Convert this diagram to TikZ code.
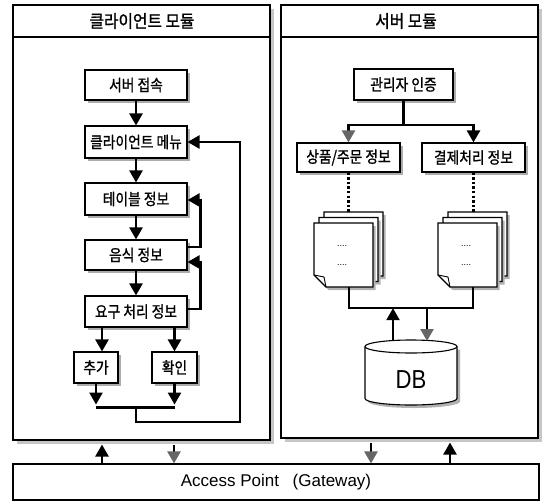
\documentclass[tikz,border=0pt]{standalone}
\usepackage{fontspec}
\usepackage{graphicx}
\newfontfamily\kr[FakeBold=1.2]{Noto Sans CJK KR}
\newfontfamily\lat{Liberation Sans}
\newcommand\ks[1]{\scalebox{0.86}[1]{#1}}
\usetikzlibrary{arrows.meta,shadows,calc}
\tikzset{docpage/.pic={
  \fill[gray!60] (2.5,3) -- (61.5,3) -- (61.5,67) -- (14.5,67) -- (2.5,55) -- cycle;
  \draw[line width=1.1pt,fill=white] (0,0) -- (59,0) -- (59,64) -- (12,64) -- (0,52) -- cycle;
  \draw[line width=0.9pt] (0,52) -- (10,54) -- (12,64);
}}
\begin{document}
\begin{tikzpicture}[x=1pt,y=-1pt,
  every node/.style={inner sep=0pt},
  kfont/.style={font=\kr\fontsize{16}{17}\selectfont},
  box/.style={draw,line width=1.1pt,fill=white,kfont,minimum height=30pt,
     drop shadow={shadow xshift=2.5pt,shadow yshift=-2.5pt,fill=gray!65,opacity=1}},
  panel/.style={draw,line width=1.1pt,fill=white,
     drop shadow={shadow xshift=4pt,shadow yshift=-4pt,fill=gray!45,opacity=1}},
  conn/.style={line width=2.4pt},
  arr/.style={conn,-{Triangle[width=13pt,length=12pt]}},
  garr/.style={conn,-{Triangle[width=13pt,length=12pt,color=black!60]}},
  dots/.style={line width=2.4pt,dash pattern=on 2.4pt off 2.2pt},
]
\useasboundingbox (0,0) rectangle (545,503);
% panels
\node[panel,minimum width=257pt,minimum height=435pt] (lp) at (141.5,222.5) {};
\node[panel,minimum width=257pt,minimum height=433pt] (rp) at (409.5,221.5) {};
\coordinate (t1) at (0,37);
\draw[line width=1.1pt] (lp.west |- t1) -- (lp.east |- t1);
\draw[line width=1.1pt] (rp.west |- t1) -- (rp.east |- t1);
\node[font=\kr\fontsize{17.5}{18}\selectfont] (lt) at (142,21) {\scalebox{0.9}[1]{클라이언트 모듈}};
\node[font=\kr\fontsize{17.5}{18}\selectfont] (rt) at (406,21) {\scalebox{0.9}[1]{서버 모듈}};
% access point
\node[draw,line width=1.1pt,fill=white,minimum width=526pt,minimum height=36pt,
  font=\lat\fontsize{17}{18}\selectfont] (ap) at (276,482) {Access Point\hspace{0.8em}(Gateway)};
% client boxes
\node[box,minimum width=102pt] (a1) at (136,85) {\ks{서버 접속}};
\node[box,minimum width=102pt,minimum height=32pt] (a2) at (136,142) {\ks{클라이언트 메뉴}};
\node[box,minimum width=102pt,minimum height=32pt] (a3) at (136,199) {\ks{테이블 정보}};
\node[box,minimum width=102pt] (a4) at (136,255) {\ks{음식 정보}};
\node[box,minimum width=102pt,minimum height=31pt] (a5) at (136,311.5) {\ks{요구 처리 정보}};
\node[box,minimum width=44pt,minimum height=31pt] (a6) at (96,367.5) {\ks{추가}};
\node[box,minimum width=45pt,minimum height=31pt] (a7) at (174.5,367.5) {\ks{확인}};
\draw[arr] (a1) -- (a2);
\draw[arr] (a2) -- (a3);
\draw[arr] (a3) -- (a4);
\draw[arr] (a4) -- (a5);
\draw[arr] ([xshift=6pt]a6.north |- a5.south) -- ([xshift=6pt]a6.north);
\draw[arr] (a7.north |- a5.south) -- (a7.north);
\draw[arr] (a6.south) -- ++(0,21);
\draw[arr] (a7.south) -- ++(0,21);
\coordinate (jl) at ($(a6.south)+(0,24)$);
\draw[conn] (jl) -- (jl -| a7.south);
\coordinate (jm) at (jl -| a4.south);
\coordinate (loopc) at (240,422);
\draw[arr] (jm) |- (loopc) |- (a2.east);
\draw[arr] ([yshift=2.5pt]a5.east) -- ++(13,0) |- ([yshift=-7pt]a4.east);
\draw[arr] ([yshift=8pt]a4.east) -- ++(13,0) |- ([yshift=-1pt]a3.east);
% panel <-> access point
\coordinate (x1) at (102,0);
\coordinate (x2) at (174,0);
\coordinate (x3) at (371,0);
\coordinate (x4) at (450,0);
\draw[arr] (ap.north -| x1) -- ($(lp.south -| x1)+(0,4)$);
\draw[garr] ($(lp.south -| x2)+(0,4)$) -- (ap.north -| x2);
\draw[garr] ($(rp.south -| x3)+(0,4)$) -- (ap.north -| x3);
\draw[arr] (ap.north -| x4) -- ($(rp.south -| x4)+(0,4)$);
% server boxes
\node[box,minimum width=99pt,minimum height=31pt] (b1) at (403.5,84.5) {\ks{관리자 인증}};
\node[box,minimum width=103pt,minimum height=29pt] (b2) at (348.5,157.5) {\ks{상품/주문 정보}};
\node[box,minimum width=103pt,minimum height=29pt] (b3) at (473.5,157.5) {\ks{결제처리 정보}};
\coordinate (bj) at (403.5,125);
\draw[conn] (b1.south) -- (bj);
\draw[garr] (bj) -| (b2.north);
\draw[arr] (bj) -| (b3.north);
% document stacks
\node[minimum width=71pt,minimum height=75pt] (d1) at (349,249.5) {};
\node[minimum width=71pt,minimum height=75pt] (d2) at (473,249.5) {};
\draw[dots] (b2.south) -- (b2.south |- d1.north);
\draw[dots] (b3.south) -- (b3.south |- d2.north);
\pic at (324,212) {docpage};
\pic at (319,217.5) {docpage};
\pic at (314,223) {docpage};
\pic at (448,212) {docpage};
\pic at (443,217.5) {docpage};
\pic at (438,223) {docpage};
\node[font=\lat\fontsize{9}{9}\selectfont] (t11) at (342,246) {....};
\node[font=\lat\fontsize{9}{9}\selectfont] (t12) at (342,265) {....};
\node[font=\lat\fontsize{9}{9}\selectfont] (t21) at (466,246) {....};
\node[font=\lat\fontsize{9}{9}\selectfont] (t22) at (466,265) {....};
\coordinate (bus) at ($(d1.south)+(0,21)$);
\draw[conn] (d1.south) -- (bus) -| (d2.south);
% DB cylinder
\fill[gray!60] (368,349.5) -- (368,401.5) arc[start angle=180,end angle=360,x radius=46pt,y radius=6.5pt] -- (460,349.5) -- cycle;
\draw[line width=1.1pt,fill=white] (365,346.5) -- (365,398.5) arc[start angle=180,end angle=360,x radius=46pt,y radius=6.5pt] -- (457,346.5) arc[start angle=0,end angle=180,x radius=46pt,y radius=6.5pt] -- cycle;
\draw[line width=1.1pt] (365,346.5) arc[start angle=180,end angle=360,x radius=46pt,y radius=6.5pt];
\node[font=\lat\fontsize{26}{26}\selectfont] (db) at (411,380) {\scalebox{0.85}[1]{DB}};
\coordinate (dbl) at (393,341);
\coordinate (dbr) at (427,341);
\draw[arr] (dbl) -- (dbl |- bus);
\draw[garr] (dbr |- bus) -- (dbr);
\end{tikzpicture}
\end{document}
